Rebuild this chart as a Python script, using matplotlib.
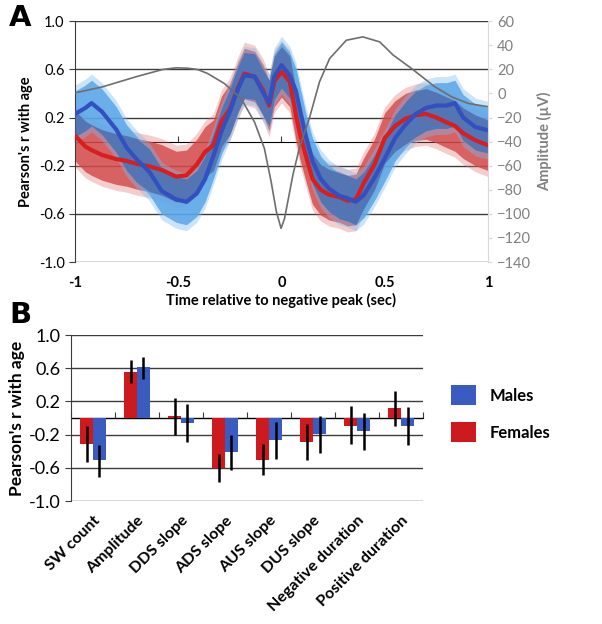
import numpy as np
import matplotlib.pyplot as plt
from matplotlib.patches import Patch

plt.rcParams['font.family'] = ['Lato', 'DejaVu Sans']

# ---- panel A: correlation with age over the slow wave ----
time_s = [-1.0, -0.95, -0.92, -0.87, -0.8, -0.75, -0.7, -0.64, -0.58, -0.51, -0.46,
          -0.41, -0.37, -0.33, -0.29, -0.25, -0.21, -0.18, -0.13, -0.09, -0.06, -0.035,
          0.0, 0.04, 0.07, 0.09, 0.12, 0.15, 0.19, 0.23, 0.28, 0.32, 0.36, 0.40, 0.45,
          0.50, 0.55, 0.60, 0.65, 0.70, 0.75, 0.80, 0.84, 0.88, 0.94, 1.0]
male_r = [0.23, 0.28, 0.32, 0.25, 0.10, -0.05, -0.15, -0.25, -0.41, -0.48, -0.50,
          -0.43, -0.31, -0.12, 0.09, 0.25, 0.44, 0.55, 0.54, 0.41, 0.32, 0.54,
          0.635, 0.55, 0.42, 0.26, 0.03, -0.16, -0.31, -0.39, -0.45, -0.47, -0.50, -0.44, -0.30,
          -0.14, 0.03, 0.14, 0.23, 0.28, 0.30, 0.30, 0.32, 0.20, 0.12, 0.095]
female_r = [0.05, -0.04, -0.07, -0.11, -0.145, -0.16, -0.185, -0.205, -0.235, -0.29, -0.28,
            -0.19, -0.085, -0.03, 0.17, 0.27, 0.45, 0.565, 0.54, 0.43, 0.30, 0.50,
            0.58, 0.50, 0.22, 0.06, -0.13, -0.31, -0.40, -0.44, -0.46, -0.49, -0.48, -0.34, -0.19,
            0.03, 0.13, 0.19, 0.22, 0.23, 0.20, 0.16, 0.13, 0.07, 0.01, -0.03]
male_ci = 0.19
female_ci = 0.21

# average slow wave (right axis)
amp_t = [-1.0, -0.867, -0.706, -0.576, -0.511, -0.455, -0.406, -0.358, -0.277, -0.196,
         -0.131, -0.083, -0.05, -0.025, -0.002, 0.015, 0.055, 0.087, 0.136, 0.184, 0.233,
         0.314, 0.394, 0.476, 0.54, 0.63, 0.743, 0.824, 0.905, 1.0]
amp_uv = [0.5, 5.5, 13.8, 19.9, 21.3, 21.0, 19.9, 16.6, 8.3, -4.1,
          -23.6, -45.6, -73.4, -98.0, -112.0, -103.7, -67.8, -45.0, -20.0, 9.6, 29.0,
          44.2, 47.0, 42.8, 32.0, 20.7, 5.5, -2.8, -8.3, -11.0]

# ---- panel B: slow wave features ----
features = ['SW count', 'Amplitude', 'DDS slope', 'ADS slope', 'AUS slope',
            'DUS slope', 'Negative duration', 'Positive duration']
female_vals = [-0.31, 0.56, 0.02, -0.60, -0.51, -0.29, -0.09, 0.12]
female_lo = [-0.53, 0.42, -0.20, -0.77, -0.69, -0.51, -0.31, -0.09]
female_hi = [-0.09, 0.70, 0.24, -0.43, -0.31, -0.07, 0.14, 0.33]
male_vals = [-0.51, 0.61, -0.06, -0.41, -0.27, -0.19, -0.16, -0.10]
male_lo = [-0.71, 0.47, -0.29, -0.62, -0.49, -0.42, -0.39, -0.32]
male_hi = [-0.33, 0.73, 0.17, -0.20, -0.05, 0.03, 0.06, 0.13]

RED = '#cc1a1e'
BLUE = '#3a5bbf'
GRID = '#3c3c3c'

fig = plt.figure(figsize=(6.02, 6.24), dpi=100)

# ===== A =====
ax = fig.add_axes([0.1246, 0.580, 0.686, 0.386])
t = np.array(time_s)
m = np.array(male_r)
f = np.array(female_r)

for yv in [1.0, 0.6, 0.2, -0.2, -0.6, -1.0]:
    ax.axhline(yv, color=GRID, lw=1, zorder=0)

# bands with soft edges
ax.fill_between(t, f - female_ci - 0.05, f + female_ci + 0.05, color='#e07070', alpha=0.35, lw=0, zorder=1)
ax.fill_between(t, f - female_ci, f + female_ci, color='#d24646', alpha=0.8, lw=0, zorder=1)
ax.fill_between(t, m - male_ci - 0.05, m + male_ci + 0.05, color='#7cbcf0', alpha=0.4, lw=0, zorder=2)
ax.fill_between(t, m - male_ci, m + male_ci, color='#5aa6e8', alpha=0.85, lw=0, zorder=2)
lo = np.maximum(m - male_ci, f - female_ci)
hi = np.minimum(m + male_ci, f + female_ci)
ax.fill_between(t, lo, hi, where=hi > lo, interpolate=True, color='#5272b0', alpha=0.92, lw=0, zorder=3)

ax.plot(t, f, color='#d81e1e', lw=3, zorder=5)
ax.plot(t, m, color='#3350c0', lw=3, zorder=6)

ax.set_xlim(-1, 1)
ax.set_ylim(-1, 1)
ax.set_yticks([1.0, 0.6, 0.2, -0.2, -0.6, -1.0])
ax.set_yticklabels(['1.0', '0.6', '0.2', '-0.2', '-0.6', '-1.0'])
ax.set_xticks([-1, -0.5, 0, 0.5, 1])
ax.set_xticklabels(['-1', '-0.5', '0', '0.5', '1'], fontweight='bold')
ax.tick_params(axis='x', length=0, pad=10, labelsize=10.5)
ax.tick_params(axis='y', length=4, color=GRID, labelsize=10.5)
for s in ['top', 'right', 'bottom']:
    ax.spines[s].set_visible(False)
ax.spines['left'].set_color(GRID)
ax.set_xlabel('Time relative to negative peak (sec)', fontweight='bold', fontsize=10.5, labelpad=2)
ax.set_ylabel("Pearson's r with age", fontweight='bold', fontsize=10.5, labelpad=4)

zero_ax = ax.secondary_xaxis(0.5)
zero_ax.set_xticks([-1, -0.5, 0, 0.5, 1])
zero_ax.set_xticklabels([])
zero_ax.tick_params(length=4, color=GRID, direction='out')
zero_ax.spines['bottom'].set_color(GRID)

ax2 = ax.twinx()
ax2.plot(amp_t, amp_uv, color='#6e6e6e', lw=1.2, zorder=4)
ax2.set_ylim(-140, 60)
ax2.set_yticks(np.arange(-140, 61, 20))
ax2.tick_params(axis='y', colors='#808080', length=3, labelsize=10.5)
ax2.tick_params(axis='y', color='#d9d9d9')
for s in ['top', 'left', 'bottom']:
    ax2.spines[s].set_visible(False)
ax2.spines['right'].set_color('#d9d9d9')
ax2.set_ylabel('Amplitude (\u00b5V)', color='#808080', fontweight='bold', fontsize=10.5, labelpad=4)

fig.text(0.015, 0.994, 'A', fontsize=21, fontweight='bold', va='top', ha='left',
         family='DejaVu Sans')

# ===== B =====
bx = fig.add_axes([0.118, 0.197, 0.585, 0.266])
x = np.arange(len(features))
w = 0.29
for yv in [1.0, 0.6, 0.2, -0.2, -0.6, -1.0]:
    bx.axhline(yv, color=GRID, lw=1, zorder=0)
bx.axhline(0, color=GRID, lw=1, zorder=0)

fv = np.array(female_vals)
mv = np.array(male_vals)
bx.bar(x - w / 2, fv, w, color=RED, zorder=2)
bx.bar(x + w / 2, mv, w, color=BLUE, zorder=2)
bx.errorbar(x - w / 2, fv, yerr=[fv - np.array(female_lo), np.array(female_hi) - fv],
            fmt='none', ecolor='black', elinewidth=1.8, capsize=0, zorder=4)
bx.errorbar(x + w / 2, mv, yerr=[mv - np.array(male_lo), np.array(male_hi) - mv],
            fmt='none', ecolor='black', elinewidth=1.8, capsize=0, zorder=4)

bx.set_xlim(-0.5, len(features) - 0.5)
bx.set_ylim(-1, 1)
bx.set_yticks([1.0, 0.6, 0.2, -0.2, -0.6, -1.0])
bx.set_yticklabels(['1.0', '0.6', '0.2', '-0.2', '-0.6', '-1.0'])
bx.tick_params(axis='y', length=4, color=GRID, labelsize=13)
bx.set_xticks(x)
bx.set_xticklabels(features, rotation=45, ha='right', rotation_mode='anchor',
                   fontweight='bold', fontsize=11.5)
bx.tick_params(axis='x', length=0, pad=9)
for s in ['top', 'right', 'bottom']:
    bx.spines[s].set_visible(False)
bx.spines['left'].set_color(GRID)
bx.set_ylabel("Pearson's r with age", fontweight='bold', fontsize=12.5, labelpad=3)

zb = bx.secondary_xaxis(0.5)
zb.set_xticks(np.arange(len(features) + 1) - 0.5)
zb.set_xticklabels([])
zb.tick_params(length=4, color=GRID, direction='out')
zb.spines['bottom'].set_color(GRID)

handles = [Patch(facecolor=BLUE, label='Males'), Patch(facecolor=RED, label='Females')]
fig.legend(handles=handles, loc='center left', bbox_to_anchor=(0.725, 0.337), frameon=False,
           prop={'weight': 'bold', 'size': 12}, handlelength=1.5, handleheight=1.5,
           labelspacing=1.0, handletextpad=0.8)

fig.text(0.015, 0.518, 'B', fontsize=21, fontweight='bold', va='top', ha='left',
         family='DejaVu Sans')

fig.savefig('out.png', dpi=100)
